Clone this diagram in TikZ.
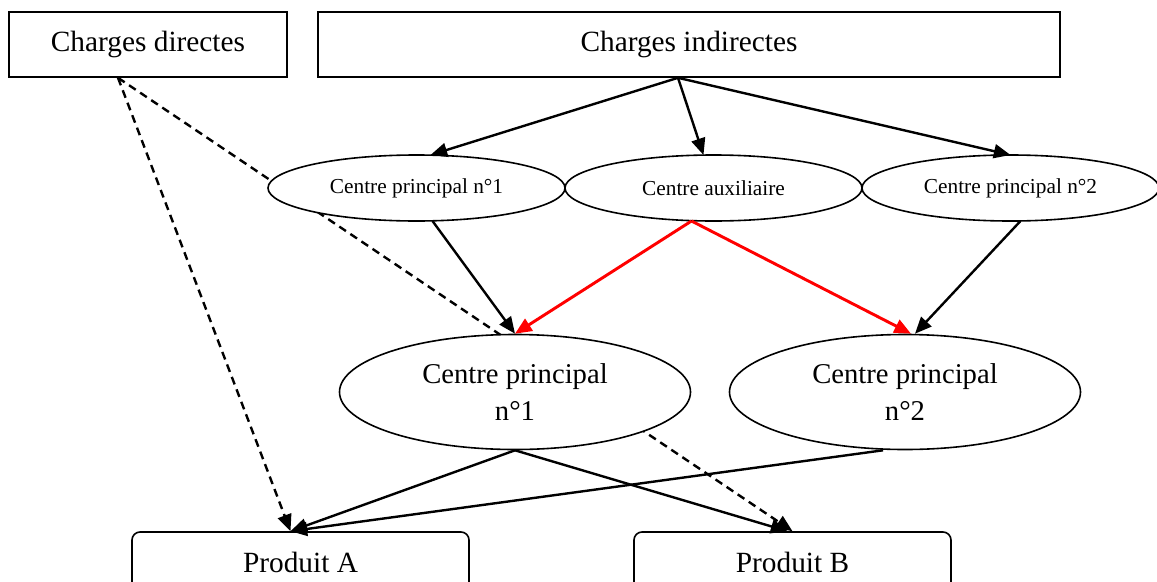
\documentclass[tikz,border=0pt]{standalone}
\usepackage{fontspec}
\setmainfont{Liberation Serif}
\usetikzlibrary{positioning,calc,arrows.meta,shapes.geometric,backgrounds}

\begin{document}
\begin{tikzpicture}[x=0.75pt,y=-0.75pt,->,>={Triangle[length=12.5pt,width=10.5pt]},line width=1.8pt,
  charge node/.style={draw,line width=1.2pt,rectangle,minimum height=48.75pt,font=\fontsize{22}{26}\selectfont},
  small centre/.style={draw,fill=white,line width=1.2pt,ellipse,inner sep=0pt,outer sep=0pt,minimum width=222.75pt,minimum height=49.5pt,font=\fontsize{16}{19}\selectfont},
  big centre/.style={draw,fill=white,line width=1.2pt,ellipse,inner sep=0pt,minimum width=263.25pt,minimum height=86.25pt,align=center,font=\fontsize{21.5}{28}\selectfont},
  product node/.style={draw,line width=1.2pt,rectangle,rounded corners=6pt,minimum height=45pt,font=\fontsize{22}{26}\selectfont},
  direct/.style={line width=1.8pt,dash pattern=on 6pt off 4pt}]
                \useasboundingbox (0,0) rectangle (1157,582);
                \clip (0,0) rectangle (1157,582);

                \node[charge node,minimum width=208.5pt] (cD) at (148,44.5) {Charges directes};
                \node[charge node,minimum width=556.5pt] (cI) at (689,44.5) {Charges indirectes};
                \node[small centre] (cP1s) at (416.5,188) {Centre principal n°1};
                \node[small centre] (cAux) [right=0pt of cP1s] {Centre auxiliaire};
                \node[small centre] (cP2s) [right=0pt of cAux] {Centre principal n°2};
                \node[big centre] (cP1) at (515,392) {Centre principal\\n°1};
                \node[big centre] (cP2) at (905,392) {Centre principal\\n°2};
                \node[product node,minimum width=252.75pt] (pA) at (300.5,562) {Produit A};
                \node[product node,minimum width=237.75pt] (pB) at (792.5,562) {Produit B};

                \path
                    ($(cI.south)+(-11,0)$) edge ($(cP1s.north)+(14,0)$)
                    ($(cI.south)+(-11,0)$) edge ($(cAux.north)+(-10,0)$)
                    ($(cI.south)+(-11,0)$) edge (cP2s.north)
                    ($(cP1s.south)+(16,0)$) edge (cP1.north)
                    ($(cP2s.south)+(10,0)$) edge ($(cP2.north)+(10,0)$)
                    ($(cAux.south)+(-22,0)$) edge[red,line width=2.2pt] (cP1.north)
                    ($(cAux.south)+(-22,0)$) edge[red,line width=2.2pt] ($(cP2.north)+(6,0)$)
                    (cP1.south) edge ($(pA.north)+(-10,0)$)
                    (cP1.south) edge ($(pB.north)+(-5,0)$)
                    ($(cP2.south)+(-22,0)$) edge ($(pA.north)+(-10,0)$)
                ;
                \begin{pgfonlayer}{background}
                \path[direct]
                    ($(cD.south)+(-30,0)$) edge ($(pA.north)+(-10,0)$)
                    ($(cD.south)+(-30,0)$) edge (pB.north)
                ;
                \end{pgfonlayer}
            \end{tikzpicture}
\end{document}
